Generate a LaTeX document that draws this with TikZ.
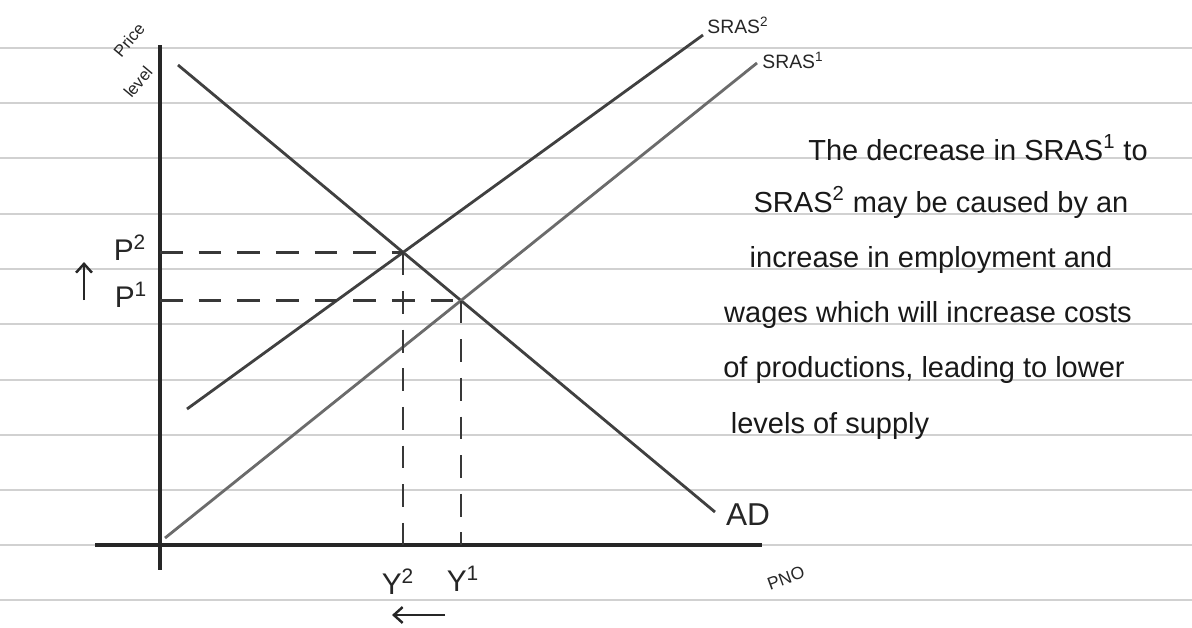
\documentclass[tikz,border=0pt]{standalone}
\usepackage{fontspec}
\setmainfont{Liberation Sans}
\usetikzlibrary{arrows.meta}
\begin{document}
\begin{tikzpicture}[x=0.02cm, y=-0.02cm,
  ruled/.style={draw=black!18, line width=0.6pt},
  axisline/.style={draw=black!85, line width=1.9pt},
  curve/.style={draw=black!75, line width=1.6pt},
  curvelight/.style={draw=black!58, line width=1.6pt},
  guide/.style={draw=black!78, line width=1.5pt, dash pattern=on 13pt off 9pt},
  lbl/.style={inner sep=0pt, text=black!85},
  body/.style={inner sep=0pt, anchor=base, text=black!90, font=\fontsize{16.5}{19}\selectfont},
  shiftarrow/.style={draw=black!85, line width=1.4pt, -{Straight Barb[length=5pt,width=9pt]}}]
\useasboundingbox (0,0) rectangle (1192,627);
\fill[white] (0,0) rectangle (1192,627);
% ruled paper lines
\foreach \yy in {48,103,158,214,269,324,380,435,490,545,600}
  \draw[ruled] (0,\yy) -- (1192,\yy);
% axes
\coordinate (ytop) at (160,45);
\coordinate (ybot) at (160,570);
\coordinate (xleft) at (95,545);
\coordinate (xright) at (762,545);
\draw[axisline] (ytop) -- (ybot);
\draw[axisline] (xleft) -- (xright);
% curves
\coordinate (ad1) at (178,65);
\coordinate (ad2) at (715,512);
\coordinate (sa1) at (165,538);
\coordinate (sa2) at (757,63);
\coordinate (sb1) at (187,409);
\coordinate (sb2) at (703,35);
\draw[curve] (ad1) -- (ad2);
\draw[curvelight] (sa1) -- (sa2);
\draw[curve] (sb1) -- (sb2);
\path (intersection of ad1--ad2 and sb1--sb2) coordinate (e2);
\path (intersection of ad1--ad2 and sa1--sa2) coordinate (e1);
% guides
\draw[guide] (e2 -| ytop) -- (e2);
\draw[guide] (e1 -| ytop) -- (e1);
\draw[guide] (e2) -- (e2 |- xleft);
\draw[guide] (e1) -- (e1 |- xleft);
% curve labels
\node[lbl, font=\fontsize{18}{20}\selectfont] (adl) at (748,515) {AD};
\node[lbl, font=\fontsize{11}{13}\selectfont] (sbl) at (738,25) {SRAS\textsuperscript{2}};
\node[lbl, font=\fontsize{11}{13}\selectfont] (sal) at (793,60) {SRAS\textsuperscript{1}};
% axis labels
\node[lbl, rotate=50, font=\fontsize{9.5}{11}\selectfont] (plp) at (129,40) {Price};
\node[lbl, rotate=50, font=\fontsize{9.5}{11}\selectfont] (pll) at (138,82) {level};
\node[lbl, rotate=20, font=\fontsize{10}{12}\selectfont] (gnp) at (786,578) {PNO};
% price labels
\node[lbl, font=\fontsize{17}{19}\selectfont] (p2) at (130,248) {P\textsuperscript{2}};
\node[lbl, font=\fontsize{17}{19}\selectfont] (p1) at (131,295) {P\textsuperscript{1}};
\coordinate (pu1) at (84,300);
\coordinate (pu2) at (84,262);
\draw[shiftarrow] (pu1) -- (pu2);
% output labels
\node[lbl, font=\fontsize{17}{19}\selectfont] (y2) at (398,582) {Y\textsuperscript{2}};
\node[lbl, font=\fontsize{17}{19}\selectfont] (y1) at (463,579) {Y\textsuperscript{1}};
\coordinate (ya1) at (445,615);
\coordinate (ya2) at (392,615);
\draw[shiftarrow] (ya1) -- (ya2);
% explanation text
\node[body] (t1) at (978,160) {The decrease in SRAS\textsuperscript{1} to};
\node[body] (t2) at (941,212) {SRAS\textsuperscript{2} may be caused by an};
\node[body] (t3) at (931,267) {increase in employment and};
\node[body] (t4) at (928,322) {wages which will increase costs};
\node[body] (t5) at (924,377) {of productions, leading to lower};
\node[body] (t6) at (830,433) {levels of supply};
\end{tikzpicture}
\end{document}
